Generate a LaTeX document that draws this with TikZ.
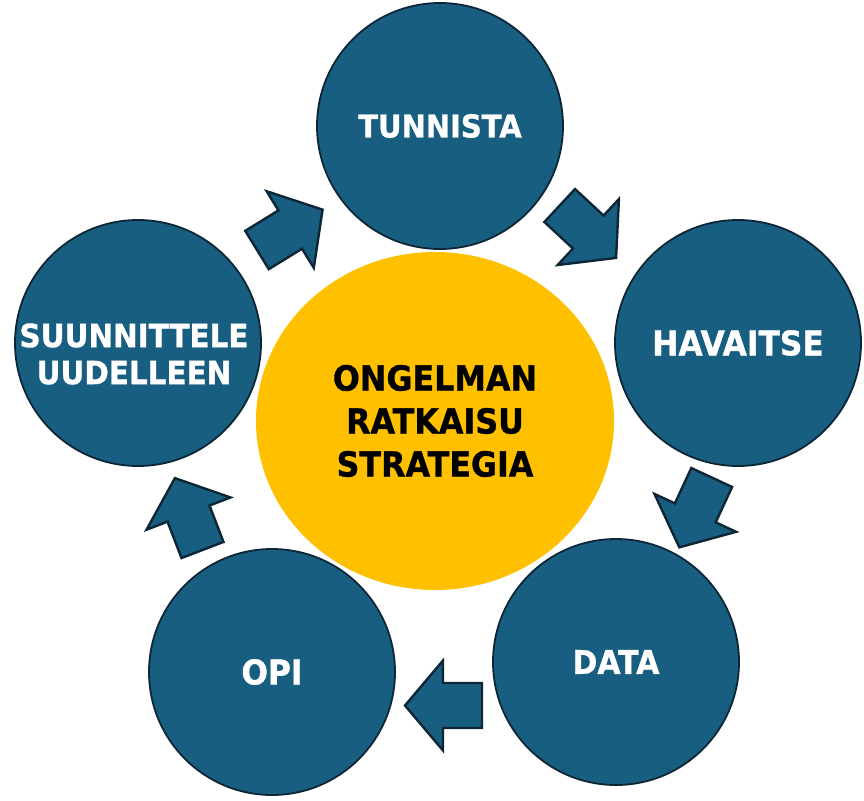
\documentclass[tikz,border=0pt]{standalone}
\usepackage{fontspec}
\setmainfont{DejaVu Sans}
\newfontfamily\stepfont{DejaVu Sans Bold}[FakeStretch=0.92, FakeBold=1]
\usetikzlibrary{shapes.geometric}
\definecolor{stepblue}{RGB}{24,94,128}
\definecolor{rimnavy}{RGB}{12,38,54}
\definecolor{coreyellow}{RGB}{255,192,0}
\tikzset{
	stepcircle/.style={circle, fill=stepblue, draw=rimnavy, line width=1.8pt, minimum size=246pt, inner sep=0pt, text=white, align=center},
	coreellipse/.style={ellipse, fill=coreyellow, minimum width=358pt, minimum height=338pt, inner sep=0pt, align=center},
	arrowshape/.style={fill=stepblue, draw=rimnavy, line width=2.4pt, line join=miter}
}
\def\blockarrow(#1)(#2){\draw[arrowshape, shift={(#1)}, rotate=#2] (0,-22.5) -- (39,-22.5) -- (39,-45) -- (77,0) -- (39,45) -- (39,22.5) -- (0,22.5) -- cycle;}

\begin{document}
\begin{tikzpicture}[x=1pt, y=-1pt]
			%%%%% START %%%%%
			\useasboundingbox (0,0) rectangle (864,800);
			
			\node[coreellipse, font=\stepfont\fontsize{34.5}{43}\selectfont] (core) at (435,421) {ONGELMAN\\RATKAISU\\STRATEGIA};
			
			\node[stepcircle, font=\stepfont\fontsize{31.5}{36}\selectfont] (tunnista) at (440,126) {TUNNISTA};
			\node[stepcircle, font=\stepfont\fontsize{34}{38}\selectfont] (havaitse) at (738,343) {HAVAITSE};
			\node[stepcircle, font=\stepfont\fontsize{32.5}{38}\selectfont] (data) at (616,662) {DATA};
			\node[stepcircle, font=\stepfont\fontsize{34}{38}\selectfont] (opi) at (272,672) {OPI};
			\node[stepcircle] (suunnittele) at (138,343) {};
			\node[text=white, align=center, font=\stepfont\fontsize{32}{37}\selectfont] (suutext) at (134,354) {SUUNNITTELE\\UUDELLEEN};
			
			% arrows round the cycle
			\blockarrow(257,250)(31.6)
			\blockarrow(559.7,205.5)(-42.9)
			\blockarrow(711.7,477.5)(-114.9)
			\blockarrow(482,705.5)(180)
			\blockarrow(202.5,550)(111)
			
			%%%%% END %%%%%
\end{tikzpicture}
\end{document}
